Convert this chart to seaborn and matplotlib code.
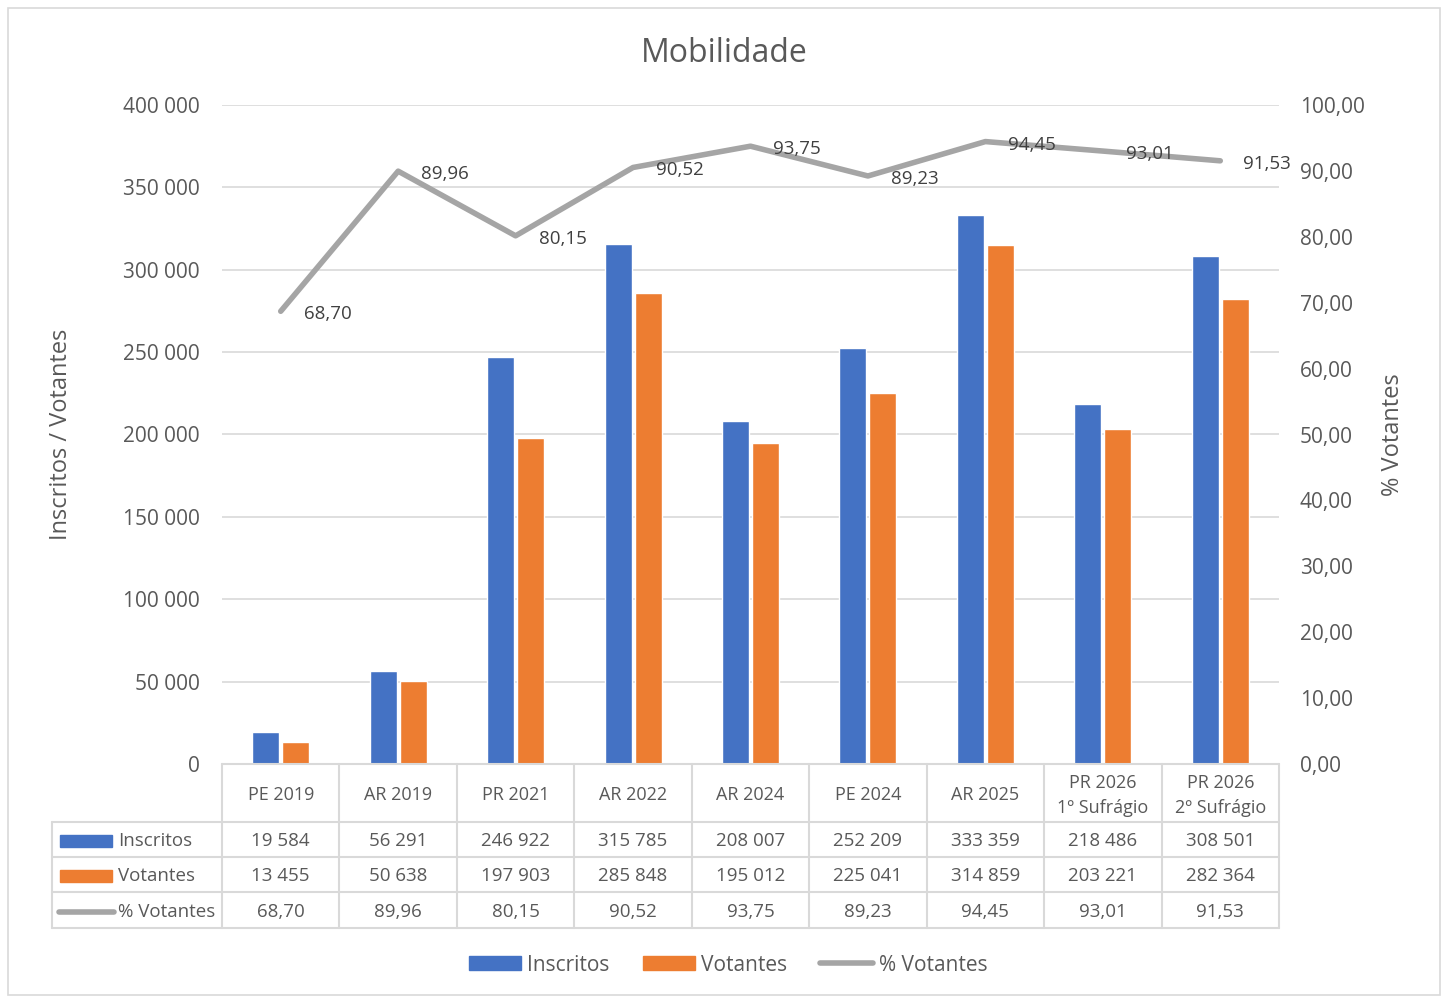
import numpy as np
import pandas as pd
import seaborn as sns
import matplotlib.pyplot as plt
from matplotlib.patches import Rectangle
from matplotlib.lines import Line2D
from matplotlib.ticker import FuncFormatter
import matplotlib.transforms as mtransforms

# Data
categorias = ['PE 2019', 'AR 2019', 'PR 2021', 'AR 2022', 'AR 2024', 'PE 2024',
              'AR 2025', 'PR 2026\n1º Sufrágio', 'PR 2026\n2º Sufrágio']
inscritos = [19584, 56291, 246922, 315785, 208007, 252209, 333359, 218486, 308501]
votantes = [13455, 50638, 197903, 285848, 195012, 225041, 314859, 203221, 282364]
pct_votantes = [68.70, 89.96, 80.15, 90.52, 93.75, 89.23, 94.45, 93.01, 91.53]

blue = '#4472C4'
orange = '#ED7D31'
grey = '#A5A5A5'
txt = '#595959'
gridc = '#D9D9D9'

sns.set_theme(style='white')
plt.rcParams['font.family'] = ['Open Sans', 'DejaVu Sans']


def fmt_int(v):
    return f'{int(v):,}'.replace(',', ' ')


def fmt_pct(v):
    return f'{v:.2f}'.replace('.', ',')


df = pd.DataFrame({
    'cat': categorias * 2,
    'valor': inscritos + votantes,
    'serie': ['Inscritos'] * len(categorias) + ['Votantes'] * len(categorias),
})

fig = plt.figure(figsize=(14.47, 9.97), dpi=100)
ax = fig.add_axes([222 / 1447, 1 - 764 / 997, (1279 - 222) / 1447, (764 - 105) / 997])

sns.barplot(data=df, x='cat', y='valor', hue='serie', order=categorias,
            palette=[blue, orange], width=0.51, gap=0.1, ax=ax,
            legend=False, saturation=1)
ax.set_xlim(-0.5, len(categorias) - 0.5)
ax.set_ylim(0, 400000)
ax.set_yticks(np.arange(0, 400001, 50000))
ax.yaxis.set_major_formatter(FuncFormatter(lambda v, p: fmt_int(v)))
ax.grid(axis='y', color=gridc, lw=1.2)
ax.set_axisbelow(True)
for s in ax.spines.values():
    s.set_visible(False)
ax.set_xlabel('')
ax.set_xticks([])
ax.set_ylabel('Inscritos / Votantes', fontsize=17, color=txt, labelpad=36)
ax.tick_params(axis='y', labelsize=15, colors=txt, length=0, pad=16)

ax2 = ax.twinx()
xs = np.arange(len(categorias))
sns.lineplot(x=xs, y=pct_votantes, color=grey, lw=4, ax=ax2,
             solid_capstyle='round', solid_joinstyle='round')
ax2.set_xlim(-0.5, len(categorias) - 0.5)
ax2.set_ylim(0, 100)
ax2.set_yticks(np.arange(0, 101, 10))
ax2.yaxis.set_major_formatter(FuncFormatter(lambda v, p: fmt_pct(v)))
ax2.tick_params(axis='y', labelsize=15, colors=txt, length=0, pad=15)
ax2.set_ylabel('% Votantes', fontsize=17, color=txt, labelpad=12)
ax2.grid(False)
for s in ax2.spines.values():
    s.set_visible(False)
for x, v in zip(xs, pct_votantes):
    ax2.annotate(fmt_pct(v), (x, v), xytext=(23, -3), textcoords='offset pixels',
                 ha='left', va='center', fontsize=13.5, color='#404040')

# table under the chart
tr = mtransforms.blended_transform_factory(ax.transData, ax.transAxes)
h = 659.0
y_head = -58 / h
rows_y = [y_head, -93 / h, -128 / h, -164 / h]
x_left = -0.5 - 170 / 117.4
n = len(categorias)
lkw = dict(color=gridc, lw=1.5, transform=tr, clip_on=False)
# horizontal lines
ax.add_line(Line2D([-0.5, n - 0.5], [0, 0], **lkw))
for y in rows_y:
    ax.add_line(Line2D([x_left, n - 0.5], [y, y], **lkw))
# vertical lines
for i in range(n + 1):
    ax.add_line(Line2D([i - 0.5, i - 0.5], [0, rows_y[-1]], **lkw))
ax.add_line(Line2D([x_left, x_left], [y_head, rows_y[-1]], **lkw))

for i, c in enumerate(categorias):
    ax.text(i, y_head / 2 - 2 / h, c, transform=tr, ha='center', va='center',
            fontsize=13, color=txt, linespacing=1.5)

row_vals = [[fmt_int(v) for v in inscritos],
            [fmt_int(v) for v in votantes],
            [fmt_pct(v) for v in pct_votantes]]
row_names = ['Inscritos', 'Votantes', '% Votantes']
for r in range(3):
    yc = (rows_y[r] + rows_y[r + 1]) / 2 - 1.5 / h
    for i, t in enumerate(row_vals[r]):
        ax.text(i, yc, t, transform=tr, ha='center', va='center',
                fontsize=13.5, color=txt)
    xs0 = -0.5 - 162 / 117.4
    xs1 = -0.5 - 110 / 117.4
    if r < 2:
        ax.add_patch(Rectangle((xs0, yc - 6 / h), xs1 - xs0, 12 / h,
                               color=[blue, orange][r], transform=tr, clip_on=False))
    else:
        ax.add_line(Line2D([xs0 - 0.01, xs1 + 0.02], [yc, yc], color=grey, lw=4,
                           solid_capstyle='round', transform=tr, clip_on=False))
    ax.text(-0.5 - 104 / 117.4, yc, row_names[r], transform=tr, ha='left',
            va='center', fontsize=13.5, color=txt)

fig.text(724 / 1447, 1 - 54 / 997, 'Mobilidade', ha='center', va='center',
         fontsize=23, color=txt)

handles = [Rectangle((0, 0), 1, 1, color=blue),
           Rectangle((0, 0), 1, 1, color=orange),
           Line2D([0], [0], color=grey, lw=4, solid_capstyle='round')]
fig.legend(handles, ['Inscritos', 'Votantes', '% Votantes'], loc='center',
           bbox_to_anchor=(728 / 1447, 1 - 965 / 997), ncol=3, frameon=False,
           fontsize=15, handlelength=2.5, handleheight=0.65, handletextpad=0.3,
           columnspacing=1.6, labelcolor=txt)

fig.add_artist(Rectangle((8 / 1447, 2 / 997), 1432 / 1447, 987 / 997,
                         fill=False, ec=gridc, lw=1.2, transform=fig.transFigure))

fig.savefig('out.png', dpi=100)
